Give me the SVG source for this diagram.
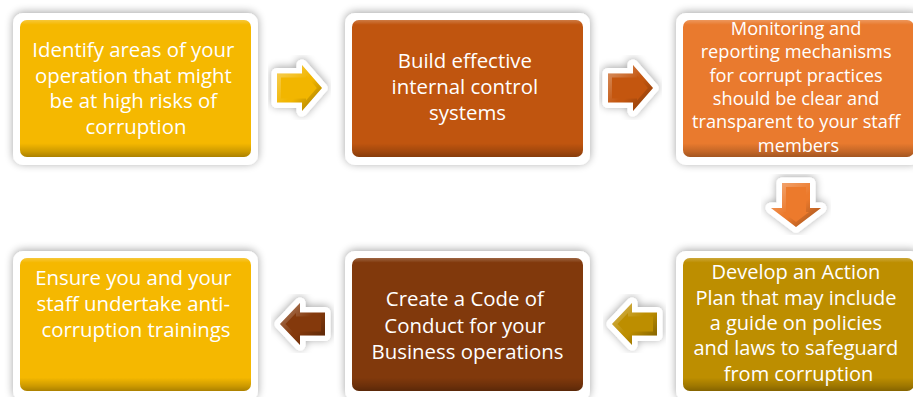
<svg xmlns="http://www.w3.org/2000/svg" width="913" height="397" viewBox="0 0 913 397">
  <defs>
    <style>
      .frame { fill: #ffffff; filter: url(#softShadow); }
      .shade { fill: url(#boxShade); }
      .txt { fill: #ffffff; font-family: "Open Sans", "Noto Sans", "Liberation Sans", sans-serif; font-size: 20.4px; text-anchor: middle; }
      .small { font-size: 18.2px; }
      .mid { font-size: 20px; }
      .halo { fill: #ffffff; stroke: #ffffff; stroke-width: 11; stroke-linejoin: round; filter: url(#softShadow); }
      .bevel { fill: none; stroke: url(#arrowBevel); stroke-width: 8; }
    </style>
    <filter id="softShadow" x="-20%" y="-20%" width="140%" height="140%">
      <feGaussianBlur in="SourceAlpha" stdDeviation="4"/>
      <feOffset dy="-1"/>
      <feComponentTransfer><feFuncA type="linear" slope="0.36"/></feComponentTransfer>
      <feMerge><feMergeNode/><feMergeNode in="SourceGraphic"/></feMerge>
    </filter>
    <linearGradient id="boxShade" x1="0" y1="0" x2="0" y2="1">
      <stop offset="0" stop-color="#ffffff" stop-opacity="0.22"/>
      <stop offset="0.035" stop-color="#ffffff" stop-opacity="0"/>
      <stop offset="0.9" stop-color="#000000" stop-opacity="0"/>
      <stop offset="0.96" stop-color="#000000" stop-opacity="0.16"/>
      <stop offset="1" stop-color="#000000" stop-opacity="0.3"/>
    </linearGradient>
    <linearGradient id="arrowBevel" x1="0" y1="0" x2="1" y2="1">
      <stop offset="0" stop-color="#ffffff" stop-opacity="0.38"/>
      <stop offset="0.5" stop-color="#ffffff" stop-opacity="0"/>
      <stop offset="0.55" stop-color="#000000" stop-opacity="0"/>
      <stop offset="1" stop-color="#000000" stop-opacity="0.38"/>
    </linearGradient>
    <path id="a1" d="M277,73.5 H302 V65 L322,88 L302,111 V102.5 H277 Z"/>
    <path id="a2" d="M608,73.5 H633 V65 L653,88 L633,111 V102.5 H608 Z"/>
    <path id="a3" d="M782,183 V208 H771 L796,227 L821,208 H810 V183 Z"/>
    <path id="a4" d="M657,312.5 H632 V303 L612,324 L632,345 V335.5 H657 Z"/>
    <path id="a5" d="M325,312.5 H300 V303 L280,324 L300,345 V335.5 H325 Z"/>
    <clipPath id="c1"><use href="#a1"/></clipPath>
    <clipPath id="c2"><use href="#a2"/></clipPath>
    <clipPath id="c3"><use href="#a3"/></clipPath>
    <clipPath id="c4"><use href="#a4"/></clipPath>
    <clipPath id="c5"><use href="#a5"/></clipPath>
  </defs>

  <rect width="913" height="397" fill="#ffffff"/>

  <!-- Top row -->
  <g id="node-identify">
    <rect class="frame" x="13" y="13" width="245" height="152" rx="10"/>
    <rect x="20" y="20" width="231" height="137" rx="7" fill="#F5B800"/>
    <rect class="shade" x="20" y="20" width="231" height="137" rx="7"/>
    <text class="txt" x="136">
      <tspan x="136" y="57">Identify areas of your</tspan>
      <tspan x="136" y="82.5">operation that might</tspan>
      <tspan x="136" y="108">be at high risks of</tspan>
      <tspan x="136" y="133.5">corruption</tspan>
    </text>
  </g>

  <g id="node-controls">
    <rect class="frame" x="345" y="13" width="245" height="152" rx="10"/>
    <rect x="352" y="20" width="231" height="137" rx="7" fill="#C0550F"/>
    <rect class="shade" x="352" y="20" width="231" height="137" rx="7"/>
    <text class="txt" x="467.5">
      <tspan x="467.5" y="68">Build effective</tspan>
      <tspan x="467.5" y="94">internal control</tspan>
      <tspan x="467.5" y="120">systems</tspan>
    </text>
  </g>

  <g id="node-monitoring">
    <rect class="frame" x="676" y="13" width="245" height="152" rx="10"/>
    <rect x="683" y="20" width="231" height="137" rx="7" fill="#E97A2E"/>
    <rect class="shade" x="683" y="20" width="231" height="137" rx="7"/>
    <text class="txt small" x="798.5">
      <tspan x="798.5" y="35">Monitoring and</tspan>
      <tspan x="798.5" y="58.3">reporting mechanisms</tspan>
      <tspan x="798.5" y="81.6">for corrupt practices</tspan>
      <tspan x="798.5" y="105">should be clear and</tspan>
      <tspan x="798.5" y="128.3">transparent to your staff</tspan>
      <tspan x="798.5" y="151.6">members</tspan>
    </text>
  </g>

  <!-- Bottom row -->
  <g id="node-action-plan">
    <rect class="frame" x="676" y="251" width="245" height="150" rx="10"/>
    <rect x="683" y="258" width="231" height="133" rx="7" fill="#BD8E00"/>
    <rect class="shade" x="683" y="258" width="231" height="133" rx="7"/>
    <text class="txt mid" x="798.5">
      <tspan x="798.5" y="279.2">Develop an Action</tspan>
      <tspan x="798.5" y="304.6">Plan that may include</tspan>
      <tspan x="798.5" y="330">a guide on policies</tspan>
      <tspan x="798.5" y="355.4">and laws to safeguard</tspan>
      <tspan x="798.5" y="380.8">from corruption</tspan>
    </text>
  </g>

  <g id="node-code-of-conduct">
    <rect class="frame" x="345" y="251" width="245" height="150" rx="10"/>
    <rect x="352" y="258" width="231" height="133" rx="7" fill="#81390C"/>
    <rect class="shade" x="352" y="258" width="231" height="133" rx="7"/>
    <text class="txt" x="467.5">
      <tspan x="467.5" y="306">Create a Code of</tspan>
      <tspan x="467.5" y="332.5">Conduct for your</tspan>
      <tspan x="467.5" y="359">Business operations</tspan>
    </text>
  </g>

  <g id="node-training">
    <rect class="frame" x="13" y="251" width="245" height="150" rx="10"/>
    <rect x="20" y="258" width="231" height="133" rx="7" fill="#F5B800"/>
    <rect class="shade" x="20" y="258" width="231" height="133" rx="7"/>
    <text class="txt" x="136">
      <tspan x="136" y="285">Ensure you and your</tspan>
      <tspan x="136" y="311">staff undertake anti-</tspan>
      <tspan x="136" y="337">corruption trainings</tspan>
    </text>
  </g>

  <!-- Connectors: bevelled block arrows with white halo -->
  <g id="connectors">
    <use href="#a1" class="halo"/>
    <use href="#a1" fill="#F2B600"/>
    <use href="#a1" class="bevel" clip-path="url(#c1)"/>

    <use href="#a2" class="halo"/>
    <use href="#a2" fill="#C4560F"/>
    <use href="#a2" class="bevel" clip-path="url(#c2)"/>

    <use href="#a3" class="halo"/>
    <use href="#a3" fill="#EC7A2C"/>
    <use href="#a3" class="bevel" clip-path="url(#c3)"/>

    <use href="#a4" class="halo"/>
    <use href="#a4" fill="#BD8E00"/>
    <use href="#a4" class="bevel" clip-path="url(#c4)"/>

    <use href="#a5" class="halo"/>
    <use href="#a5" fill="#84390C"/>
    <use href="#a5" class="bevel" clip-path="url(#c5)"/>
  </g>
</svg>
